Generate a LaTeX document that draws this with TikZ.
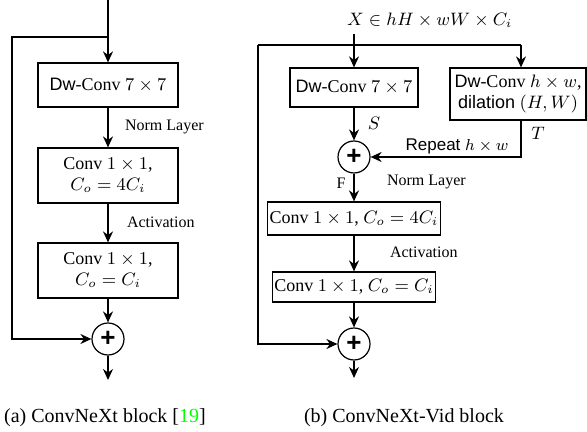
\documentclass[tikz,border=0pt]{standalone}
\usepackage[no-math]{fontspec}
\setmainfont{Liberation Serif}
\setsansfont{Liberation Sans}
\usepackage{amsmath}
\usepackage{xcolor}
\usetikzlibrary{arrows.meta,positioning,calc}

\begin{document}
\begin{tikzpicture}[x=0.5pt, y=-0.5pt,
  block/.style={draw, line width=0.6pt, minimum width=70pt, align=center, inner sep=1pt, font=\fontsize{9}{10.5}\selectfont},
  sumnode/.style={draw, circle, line width=0.6pt, minimum size=16pt, inner sep=0pt, font=\fontsize{13}{13}\sffamily\bfseries},
  edge/.style={-{Stealth[length=5.5pt,width=5pt]}, line width=0.7pt},
  wire/.style={line width=0.6pt},
  tag/.style={font=\fontsize{8}{9.5}\selectfont, anchor=west},
  mathtag/.style={font=\fontsize{9}{10.5}\selectfont},
  caption/.style={font=\fontsize{10}{12}\selectfont},
]
\useasboundingbox (0,0) rectangle (587,432);

% (a) ConvNeXt block
\coordinate (ain) at (108,0);
\coordinate (abr) at (108,37);
\coordinate (aleft) at (12,37);
\node[block, minimum height=22pt] (a1) at (108,85) {{\sffamily Dw}-Conv $7\times7$};
\node[block, minimum height=27.5pt] (a2) at (108,175.5) {Conv $1\times1$,\\ $C_o=4C_i$};
\node[block, minimum height=27.5pt] (a3) at (108,270.5) {Conv $1\times1$,\\ $C_o=C_i$};
\node[sumnode] (aplus) at (108,339) {+};
\coordinate (aout) at (108,380);

\draw[wire] (ain) -- (abr);
\draw[edge] (abr) -- (a1);
\draw[edge] (abr) -- (aleft) |- (aplus);
\draw[edge] (a1) -- (a2);
\draw[edge] (a2) -- (a3);
\draw[edge] (a3) -- (aplus);
\draw[edge] (aplus) -- (aout);

\node[tag] (anorm) at (118,127) {Norm Layer};
\node[tag] (aact) at (120,222) {Activation};
\node[caption] (acap) at (105,418) {(a) ConvNeXt block [\textcolor{green}{19}]};

% (b) ConvNeXt-Vid block
\node[mathtag, anchor=west] (xin) at (340,20) {$X\in hH\times wW\times C_i$};
\coordinate (bbr) at (354,45);
\coordinate (bleft) at (258,45);
\coordinate (bright) at (521,45);
\node[block, minimum width=64pt, minimum height=19.5pt] (bs) at (354,87.5) {{\sffamily Dw}-Conv $7\times7$};
\node[block, minimum width=68pt, minimum height=26pt] (bt) at (518,94) {{\sffamily Dw}-Conv $h\times w$,\\ {\sffamily dilation} $(H,W)$};
\node[sumnode] (bplus1) at (354,157) {+};
\node[block, minimum width=79pt, minimum height=16.5pt] (b4) at (354,218.5) {Conv $1\times1$, $C_o=4C_i$};
\node[block, minimum width=78pt, minimum height=15pt] (b5) at (354,287) {Conv $1\times1$, $C_o=C_i$};
\node[sumnode] (bplus2) at (354,344) {+};
\coordinate (bout) at (354,378);

\draw[wire] (bbr |- xin.south) -- (bbr);
\draw[edge] (bbr) -- (bs);
\draw[wire] (bleft) -- (bright);
\draw[edge] (bright) -- (bright |- bt.north);
\draw[edge] (bs) -- (bplus1);
\draw[edge] (bright |- bt.south) |- (bplus1);
\draw[edge] (bplus1) -- (b4);
\draw[edge] (b4) -- (b5);
\draw[edge] (b5) -- (bplus2);
\draw[edge] (bleft) |- (bplus2);
\draw[edge] (bplus2) -- (bout);

\node[mathtag] (slbl) at (374,123) {$S$};
\node[mathtag] (tlbl) at (538,133) {$T$};
\node[font=\fontsize{8.5}{10}\sffamily] (rep) at (457,146) {Repeat $h\times w$};
\node[tag, anchor=center] (flbl) at (341,183) {F};
\node[tag] (bnorm) at (380,182) {Norm Layer};
\node[tag] (bact) at (383,252) {Activation};
\node[caption] (bcap) at (404,418) {(b) ConvNeXt-Vid block};
\end{tikzpicture}
\end{document}
